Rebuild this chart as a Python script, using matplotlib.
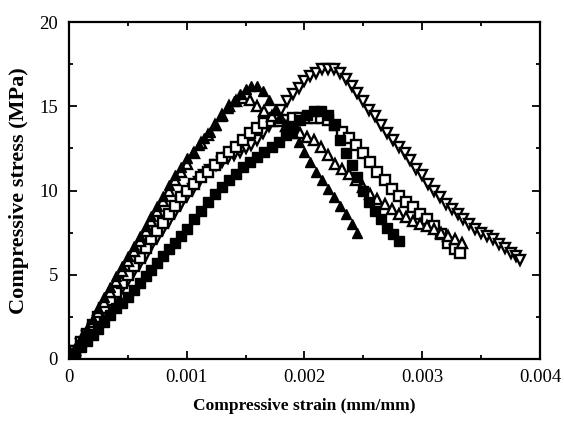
import numpy as np
import matplotlib
matplotlib.use('Agg')
import matplotlib.pyplot as plt
from matplotlib.ticker import MultipleLocator, FuncFormatter

# strain values are written in units of 1e-3 mm/mm, stress in MPa

# filled squares
strain_fsq = [0, 0.05, 0.1, 0.15, 0.2, 0.25, 0.3, 0.35, 0.4, 0.45, 0.5, 0.55, 0.6, 0.65, 0.7,
              0.75, 0.8, 0.85, 0.9, 0.95, 1.0, 1.06, 1.12, 1.18, 1.24, 1.3, 1.36, 1.42, 1.48,
              1.54, 1.6, 1.66, 1.72, 1.78, 1.84, 1.9, 1.96, 2.02, 2.08, 2.14, 2.2, 2.25, 2.3,
              2.35, 2.4, 2.45, 2.5, 2.55, 2.6, 2.65, 2.7, 2.75, 2.8]
stress_fsq = [0, 0.35, 0.7, 1.05, 1.4, 1.8, 2.2, 2.6, 3.0, 3.35, 3.7, 4.1, 4.5, 4.9, 5.3,
              5.7, 6.1, 6.5, 6.9, 7.3, 7.7, 8.3, 8.8, 9.3, 9.8, 10.2, 10.6, 11.0, 11.4,
              11.7, 12.0, 12.3, 12.6, 12.9, 13.3, 13.8, 14.2, 14.5, 14.7, 14.7, 14.5, 13.9, 13.0,
              12.2, 11.5, 10.8, 10.0, 9.3, 8.8, 8.3, 7.8, 7.4, 7.0]

# filled triangles
strain_ftri = [0, 0.05, 0.1, 0.15, 0.2, 0.25, 0.3, 0.35, 0.4, 0.45, 0.5, 0.55, 0.6, 0.65, 0.7,
               0.75, 0.8, 0.85, 0.9, 0.95, 1.0, 1.05, 1.1, 1.15, 1.2, 1.25, 1.3, 1.35, 1.4,
               1.45, 1.5, 1.55, 1.6, 1.65, 1.7, 1.75, 1.8, 1.85, 1.9, 1.95, 2.0, 2.05, 2.1,
               2.15, 2.2, 2.25, 2.3, 2.35, 2.4, 2.45]
stress_ftri = [0, 0.6, 1.2, 1.8, 2.4, 3.0, 3.7, 4.3, 4.9, 5.5, 6.1, 6.7, 7.3, 7.9, 8.5,
               9.1, 9.7, 10.3, 10.9, 11.4, 11.9, 12.3, 12.7, 13.1, 13.5, 13.9, 14.4, 14.9, 15.3,
               15.7, 16.0, 16.2, 16.2, 15.9, 15.4, 14.8, 14.3, 13.8, 13.4, 12.9, 12.3, 11.7, 11.1,
               10.6, 10.1, 9.6, 9.1, 8.6, 8.0, 7.5]

# open triangles
strain_otri = [0, 0.05, 0.1, 0.15, 0.2, 0.25, 0.3, 0.35, 0.4, 0.45, 0.5, 0.55, 0.6, 0.65, 0.7,
               0.75, 0.8, 0.85, 0.9, 0.95, 1.0, 1.06, 1.12, 1.18, 1.24, 1.3, 1.36, 1.42, 1.48,
               1.54, 1.6, 1.66, 1.72, 1.78, 1.84, 1.9, 1.96, 2.02, 2.08, 2.14, 2.2, 2.26, 2.32,
               2.38, 2.44, 2.5, 2.56, 2.62, 2.68, 2.74, 2.8, 2.86, 2.92, 2.98, 3.04, 3.1, 3.16,
               3.22, 3.28, 3.34]
stress_otri = [0, 0.55, 1.1, 1.65, 2.2, 2.8, 3.4, 4.0, 4.6, 5.2, 5.8, 6.4, 7.0, 7.6, 8.2,
               8.8, 9.4, 10.0, 10.6, 11.1, 11.6, 12.2, 12.8, 13.3, 13.9, 14.5, 15.0, 15.3, 15.5,
               15.4, 15.0, 14.7, 14.4, 14.1, 13.8, 13.6, 13.4, 13.2, 13.0, 12.6, 12.1, 11.6, 11.3,
               11.0, 10.6, 10.2, 9.8, 9.5, 9.2, 8.9, 8.6, 8.4, 8.2, 8.0, 7.9, 7.7, 7.5,
               7.3, 7.1, 6.9]

# open squares
strain_osq = [0, 0.05, 0.1, 0.15, 0.2, 0.25, 0.3, 0.35, 0.4, 0.45, 0.5, 0.55, 0.6, 0.65, 0.7,
              0.75, 0.8, 0.85, 0.9, 0.95, 1.0, 1.06, 1.12, 1.18, 1.24, 1.3, 1.36, 1.42, 1.48,
              1.54, 1.6, 1.66, 1.72, 1.78, 1.84, 1.9, 1.96, 2.02, 2.08, 2.14, 2.2, 2.26, 2.32,
              2.38, 2.44, 2.5, 2.56, 2.62, 2.68, 2.74, 2.8, 2.86, 2.92, 2.98, 3.04, 3.1, 3.16,
              3.22, 3.28, 3.32]
stress_osq = [0, 0.5, 1.0, 1.5, 2.0, 2.5, 3.0, 3.5, 4.0, 4.5, 5.0, 5.5, 6.0, 6.6, 7.1,
              7.6, 8.1, 8.6, 9.1, 9.6, 10.0, 10.4, 10.8, 11.1, 11.5, 11.9, 12.3, 12.6, 13.0,
              13.4, 13.7, 14.0, 14.1, 14.2, 14.2, 14.3, 14.3, 14.3, 14.3, 14.3, 14.2, 13.9, 13.5,
              13.1, 12.7, 12.2, 11.7, 11.1, 10.6, 10.1, 9.7, 9.3, 9.0, 8.6, 8.3, 7.9, 7.4,
              6.9, 6.5, 6.3]

# open inverted triangles
strain_dtri = [0, 0.05, 0.1, 0.15, 0.2, 0.25, 0.3, 0.35, 0.4, 0.45, 0.5, 0.55, 0.6, 0.65, 0.7,
               0.75, 0.8, 0.85, 0.9, 0.95, 1.0, 1.05, 1.1, 1.15, 1.2, 1.25, 1.3, 1.35, 1.4,
               1.45, 1.5, 1.55, 1.6, 1.65, 1.7, 1.75, 1.8, 1.85, 1.9, 1.95, 2.0, 2.05, 2.1,
               2.15, 2.2, 2.25, 2.3, 2.35, 2.4, 2.45, 2.5, 2.55, 2.6, 2.65, 2.7, 2.75, 2.8,
               2.85, 2.9, 2.95, 3.0, 3.05, 3.1, 3.15, 3.2, 3.25, 3.3, 3.35, 3.4, 3.45, 3.5,
               3.55, 3.6, 3.65, 3.7, 3.75, 3.8, 3.83]
stress_dtri = [0, 0.45, 0.9, 1.35, 1.8, 2.25, 2.7, 3.2, 3.7, 4.2, 4.7, 5.2, 5.7, 6.2, 6.7,
               7.2, 7.7, 8.2, 8.7, 9.2, 9.7, 10.1, 10.5, 10.9, 11.2, 11.5, 11.7, 11.9, 12.1,
               12.3, 12.5, 12.7, 13.0, 13.4, 13.8, 14.3, 14.8, 15.3, 15.7, 16.1, 16.5, 16.8, 17.0,
               17.2, 17.2, 17.2, 17.0, 16.6, 16.2, 15.8, 15.3, 14.8, 14.4, 13.9, 13.4, 13.0, 12.6,
               12.2, 11.8, 11.3, 10.9, 10.4, 10.0, 9.6, 9.2, 8.9, 8.6, 8.3, 8.0, 7.7, 7.5,
               7.3, 7.1, 6.8, 6.6, 6.3, 6.1, 5.9]

fig = plt.figure(figsize=(5.64, 4.21), dpi=100)
ax = fig.add_axes([0.1223, 0.1473, 0.8351, 0.8004])

ms = 7.5
ax.plot(np.array(strain_dtri) * 1e-3, stress_dtri, linestyle='none', marker='v', ms=ms,
        mfc='white', mec='black', mew=1.7)
ax.plot(np.array(strain_osq) * 1e-3, stress_osq, linestyle='none', marker='s', ms=ms - 0.8,
        mfc='white', mec='black', mew=1.7)
ax.plot(np.array(strain_otri) * 1e-3, stress_otri, linestyle='none', marker='^', ms=ms,
        mfc='white', mec='black', mew=1.7)
ax.plot(np.array(strain_fsq) * 1e-3, stress_fsq, linestyle='none', marker='s', ms=ms - 0.8,
        mfc='black', mec='black', mew=1.0)
ax.plot(np.array(strain_ftri) * 1e-3, stress_ftri, linestyle='none', marker='^', ms=ms,
        mfc='black', mec='black', mew=1.0)

ax.set_xlim(0, 0.004)
ax.set_ylim(0, 20)
ax.xaxis.set_major_locator(MultipleLocator(0.001))
ax.xaxis.set_minor_locator(MultipleLocator(0.0005))
ax.yaxis.set_major_locator(MultipleLocator(5))
ax.yaxis.set_minor_locator(MultipleLocator(2.5))
ax.xaxis.set_major_formatter(FuncFormatter(lambda v, p: '%g' % round(v, 4)))
ax.yaxis.set_major_formatter(FuncFormatter(lambda v, p: '%g' % v))

ax.tick_params(which='both', direction='in', top=True, right=True, width=1.3)
ax.tick_params(which='major', length=6, labelsize=13.5)
ax.tick_params(axis='x', which='major', pad=7)
ax.tick_params(axis='y', which='major', pad=8)
ax.tick_params(which='minor', length=3)
for lab in ax.get_xticklabels() + ax.get_yticklabels():
    lab.set_fontfamily('Liberation Serif')
for s in ax.spines.values():
    s.set_linewidth(1.6)

ax.set_xlabel('Compressive strain (mm/mm)', fontfamily='Liberation Serif',
              fontweight='bold', fontsize=12.5, labelpad=9)
ax.set_ylabel('Compressive stress (MPa)', fontfamily='Liberation Serif',
              fontweight='bold', fontsize=16, labelpad=7)

fig.savefig('out.png', dpi=100)
